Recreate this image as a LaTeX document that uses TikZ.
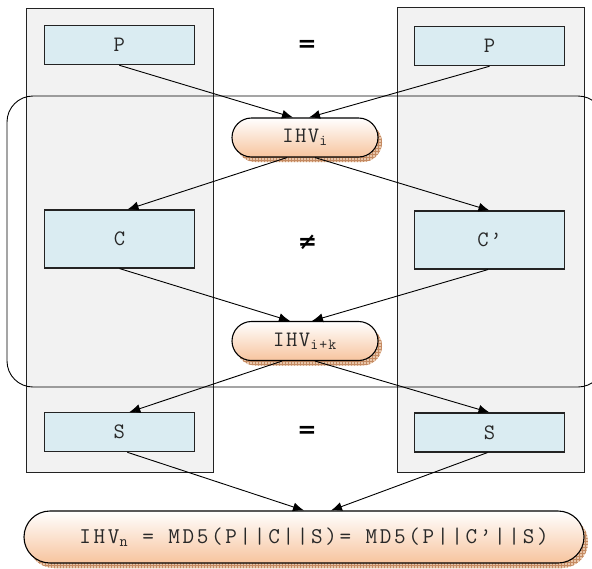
\documentclass[tikz,border=0pt]{standalone}
\usepackage{fontspec}
\usetikzlibrary{arrows.meta,patterns,shadows}

\newfontfamily\relfont{DejaVu Sans}
\newfontfamily\codefont{Latin Modern Mono}[LetterSpace=7]
\newfontfamily\bigcodefont{Latin Modern Mono}[LetterSpace=12]

\definecolor{colgray}{RGB}{242,242,242}
\definecolor{boxblue}{RGB}{218,236,242}
\definecolor{peach}{RGB}{247,196,158}
\definecolor{shadowtan}{RGB}{232,198,170}
\definecolor{shadowline}{RGB}{196,138,98}
\definecolor{edge}{RGB}{35,35,35}
\definecolor{ink}{RGB}{40,40,40}

\begin{document}
\begin{tikzpicture}[x=1pt,y=-1pt,
  column/.style={draw=edge, fill=colgray, line width=0.9pt},
  msgbox/.style={draw=edge, fill=boxblue, line width=1.1pt, text=ink,
    minimum width=150pt, minimum height=39pt, inner sep=0pt,
    font=\codefont\fontsize{22}{24}\selectfont},
  ihvshadow/.style={
    drop shadow={shadow xshift=4pt, shadow yshift=-5pt, opacity=1, fill=shadowtan},
    drop shadow={shadow xshift=4pt, shadow yshift=-5pt, opacity=1, pattern=grid, pattern color=shadowline}},
  ihv/.style={ihvshadow, draw=black, line width=1.1pt, top color=white, bottom color=peach,
    text=ink, rounded corners=19.5pt, minimum width=146pt, minimum height=39pt,
    inner sep=0pt, font=\codefont\fontsize{22}{24}\selectfont},
  flow/.style={-{Latex[length=11pt,width=9pt]}, line width=0.9pt, black},
  rel/.style={font=\relfont\bfseries\fontsize{23}{26}\selectfont, text=black}]

\useasboundingbox (0,0) rectangle (592,568);
\clip (0,0) rectangle (592,568);

% the two message columns
\draw[column] (26,8) rectangle (213,472);
\draw[column] (397,7) rectangle (584.5,472);

% the collision block frame
\draw[line width=0.9pt, black, rounded corners=26pt] (7,96) rectangle (604,387);

% message blocks
\node[msgbox] (pL) at (119.3,45.2) {P};
\node[msgbox] (pR) at (489.5,46.2) {P};
\node[msgbox, minimum height=58pt] (cL) at (119.5,239) {C};
\node[msgbox, minimum height=58pt] (cR) at (489.5,240) {C’};
\node[msgbox] (sL) at (119.3,432.2) {S};
\node[msgbox] (sR) at (489.5,432.5) {S};

% relations between the two columns
\node[rel] (eqP) at (307,46) {=};
\node[rel] (neqC) at (307.5,242) {≠};
\node[rel] (eqS) at (307,432) {=};

% intermediate hash values
\node[ihv] (ihvi) at (305,137.5) {IHV\textsubscript{i}};
\node[ihv] (ihvk) at (305,341) {IHV\textsubscript{i+k}};
\node[ihv, rounded corners=26pt, minimum width=560pt, minimum height=52pt,
  font=\bigcodefont\fontsize{22.5}{24}\selectfont]
  (final) at (304,537) {\hspace*{20pt}IHV\textsubscript{n} = MD5(P||C||S)= MD5(P||C’||S)};

% compression flow
\draw[flow] (pL.south) -- ([xshift=-12pt]ihvi.north);
\draw[flow] (pR.south) -- ([xshift=4pt]ihvi.north);
\draw[flow] ([xshift=-18pt]ihvi.south) -- ([xshift=8pt]cL.north);
\draw[flow] ([xshift=10pt]ihvi.south) -- (cR.north);
\draw[flow] (cL.south) -- ([xshift=-15pt]ihvk.north);
\draw[flow] ([xshift=-1.5pt]cR.south) -- ([xshift=7pt]ihvk.north);
\draw[flow] ([xshift=-23pt]ihvk.south) -- ([xshift=10pt]sL.north);
\draw[flow] ([xshift=10pt]ihvk.south) -- (sR.north);
\draw[flow] ([xshift=8pt]sL.south) -- ([xshift=0pt]final.north);
\draw[flow] ([xshift=-2pt]sR.south) -- ([xshift=27pt]final.north);
\end{tikzpicture}
\end{document}
